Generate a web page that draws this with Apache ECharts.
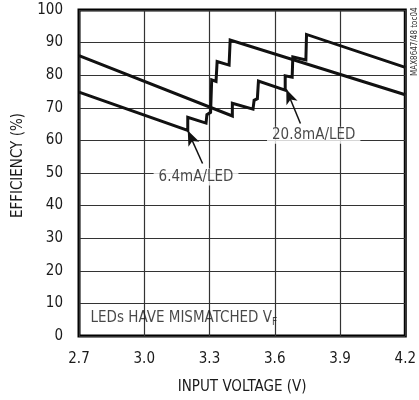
<!DOCTYPE html>
<html>
<head>
<meta charset="utf-8">
<script src="https://cdn.jsdelivr.net/npm/echarts@6/dist/echarts.min.js"></script>
<style>html,body{margin:0;padding:0;background:#fff}#c{width:419px;height:400px}</style>
</head>
<body>
<div id="c"></div>
<script>
// Efficiency vs input voltage, two LED currents
const xTicks = [2.7, 3.0, 3.3, 3.6, 3.9, 4.2];
const yTicks = [0, 10, 20, 30, 40, 50, 60, 70, 80, 90, 100];
const v64 = [2.70, 3.20, 3.20, 3.284, 3.288, 3.305, 3.31, 3.33, 3.335, 3.39, 3.395, 4.20];
const e64 = [74.8, 63.1, 67.1, 65.3, 67.9, 68.6, 78.6, 78.1, 84.2, 83.1, 90.8, 74.0];
const v208 = [2.70, 3.405, 3.405, 3.50, 3.505, 3.52, 3.525, 3.648, 3.648, 3.68, 3.683, 3.743, 3.746, 4.20];
const e208 = [86.0, 67.5, 71.4, 69.6, 72.3, 72.8, 78.2, 75.4, 79.8, 79.4, 85.6, 84.7, 92.5, 82.4];
const labels = ['6.4mA/LED', '20.8mA/LED'];
const labelPos = [[3.238, 48.8], [3.779, 61.6]];
const arrowTail = [[3.268, 52.9], [3.718, 65.2]];
const arrowTip = [[3.20, 63.0], [3.653, 75.7]];
const noteText = 'LEDs HAVE MISMATCHED V';
const notePos = [2.753, 5.4];

const FONT = '"DejaVu Sans Condensed", "Liberation Sans", sans-serif';
const FS = 15;
const chart = echarts.init(document.getElementById('c'), null, {renderer: 'canvas'});
const zip = (a, b) => a.map((x, i) => [x, b[i]]);
const lineStyle = {color: '#111', width: 3, join: 'miter'};

chart.setOption({
  animation: false,
  backgroundColor: '#fff',
  grid: {left: 79, right: 11, top: 10, bottom: 64, show: true, borderColor: '#000', borderWidth: 3},
  xAxis: {
    type: 'value', min: xTicks[0], max: xTicks[xTicks.length - 1], interval: 0.3,
    name: 'INPUT VOLTAGE (V)', nameLocation: 'middle', nameGap: 44,
    nameTextStyle: {fontFamily: FONT, fontSize: FS, color: '#1a1a1a'},
    axisLine: {show: false}, axisTick: {show: false},
    axisLabel: {fontFamily: FONT, fontSize: FS, color: '#1a1a1a', margin: 16,
      formatter: v => v.toFixed(1)},
    splitLine: {show: true, lineStyle: {color: '#333', width: 1.2}}
  },
  yAxis: {
    type: 'value', min: 0, max: 100, interval: 10,
    axisLine: {show: false}, axisTick: {show: false},
    axisLabel: {fontFamily: FONT, fontSize: FS, color: '#1a1a1a', margin: 16},
    splitLine: {show: true, lineStyle: {color: '#333', width: 1.2}}
  },
  graphic: [
    {type: 'text', x: 11, y: 113, rotation: Math.PI / 2,
      style: {text: 'EFFICIENCY (%)', font: FS + 'px ' + FONT, fill: '#1a1a1a', align: 'right', verticalAlign: 'top'}},
    {type: 'text', x: 411, y: 76, rotation: Math.PI / 2,
      style: {text: 'MAX8647/48 toc04', font: '8px ' + FONT, fill: '#333'}}
  ],
  series: [
    {type: 'line', name: labels[0], data: zip(v64, e64), showSymbol: false, lineStyle, z: 3},
    {type: 'line', name: labels[1], data: zip(v208, e208), showSymbol: false, lineStyle, z: 3,
      markLine: {
        silent: true, symbol: ['none', 'arrow'], symbolSize: [9, 15],
        lineStyle: {color: '#111', width: 1.5, type: 'solid'}, label: {show: false},
        data: arrowTail.map((t, i) => [{coord: t}, {coord: arrowTip[i]}])
      }},
    {type: 'scatter', symbolSize: 0, z: 4,
      data: labelPos.map((p, i) => ({value: p, name: labels[i]})),
      label: {show: true, position: 'inside', formatter: p => p.name,
        fontFamily: FONT, fontSize: FS, color: '#1a1a1a', backgroundColor: '#fff', padding: [1, 5]}},
    {type: 'scatter', symbolSize: 0, z: 4,
      data: [notePos],
      label: {show: true, position: 'right', distance: 0,
        formatter: '{a|' + noteText + '}{s|F}',
        rich: {
          a: {fontFamily: FONT, fontSize: FS, color: '#1a1a1a', lineHeight: 18},
          s: {fontFamily: FONT, fontSize: 10, color: '#1a1a1a', lineHeight: 18, verticalAlign: 'bottom', padding: [8, 0, 0, 0]}
        }}}
  ]
});
</script>
</body>
</html>
